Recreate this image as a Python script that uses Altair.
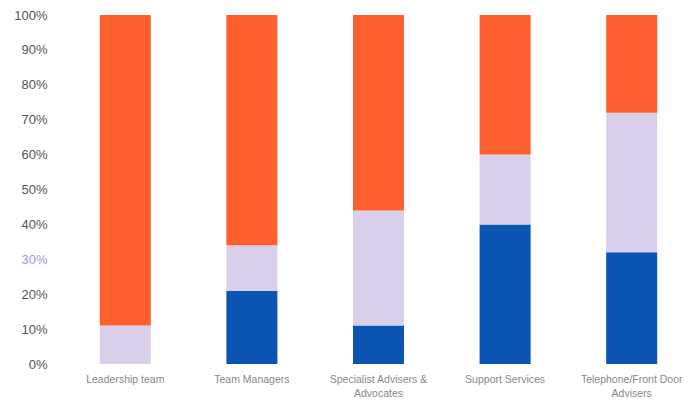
import altair as alt
import pandas as pd

categories = ["Leadership team", "Team Managers", "Specialist Advisers & Advocates",
              "Support Services", "Telephone/Front Door Advisers"]
series = ["Blue", "Lavender", "Orange"]
blue_vals = [0.00, 0.21, 0.11, 0.40, 0.32]
lav_vals = [0.11, 0.13, 0.33, 0.20, 0.40]
orange_vals = [0.89, 0.66, 0.56, 0.40, 0.28]
colors = ["#0b54b3", "#dacfea", "#ff5f2c"]

rows = []
for i, c in enumerate(categories):
    for j, (s, vals) in enumerate(zip(series, [blue_vals, lav_vals, orange_vals])):
        rows.append({"category": c, "series": s, "value": vals[i], "order": j})
df = pd.DataFrame(rows)

label_expr = ("datum.label == 'Specialist Advisers & Advocates' ? ['Specialist Advisers &', 'Advocates'] : "
              "datum.label == 'Telephone/Front Door Advisers' ? ['Telephone/Front Door', 'Advisers'] : datum.label")

chart = alt.Chart(df).mark_bar().encode(
    x=alt.X("category:N", sort=categories, title=None,
            scale=alt.Scale(paddingInner=0.597, paddingOuter=0.18),
            axis=alt.Axis(labelAngle=0, labelExpr=label_expr, domain=False, ticks=False,
                          labelPadding=10, labelColor="#888888", labelFontSize=10.5,
                          labelFont="Liberation Sans", labelLineHeight=14)),
    y=alt.Y("value:Q", stack="zero", title=None,
            scale=alt.Scale(domain=[0, 1], nice=False),
            axis=alt.Axis(format=".0%", values=[i / 10 for i in range(11)], grid=False,
                          domain=False, ticks=False, labelPadding=30,
                          labelColor=alt.condition("abs(datum.value - 0.3) < 0.001",
                                                   alt.value("#9a9ae0"), alt.value("#555555")),
                          labelFontSize=13, labelFont="Liberation Sans")),
    color=alt.Color("series:N", scale=alt.Scale(domain=series, range=colors), legend=None),
    order=alt.Order("order:Q"),
).properties(
    width=603, height=349,
    autosize=alt.AutoSizeParams(type="none"),
    padding={"left": 77, "top": 15, "right": 8, "bottom": 41},
).configure_view(stroke=None)

chart.save("out.html", embed_options={"renderer": "svg", "actions": False})
